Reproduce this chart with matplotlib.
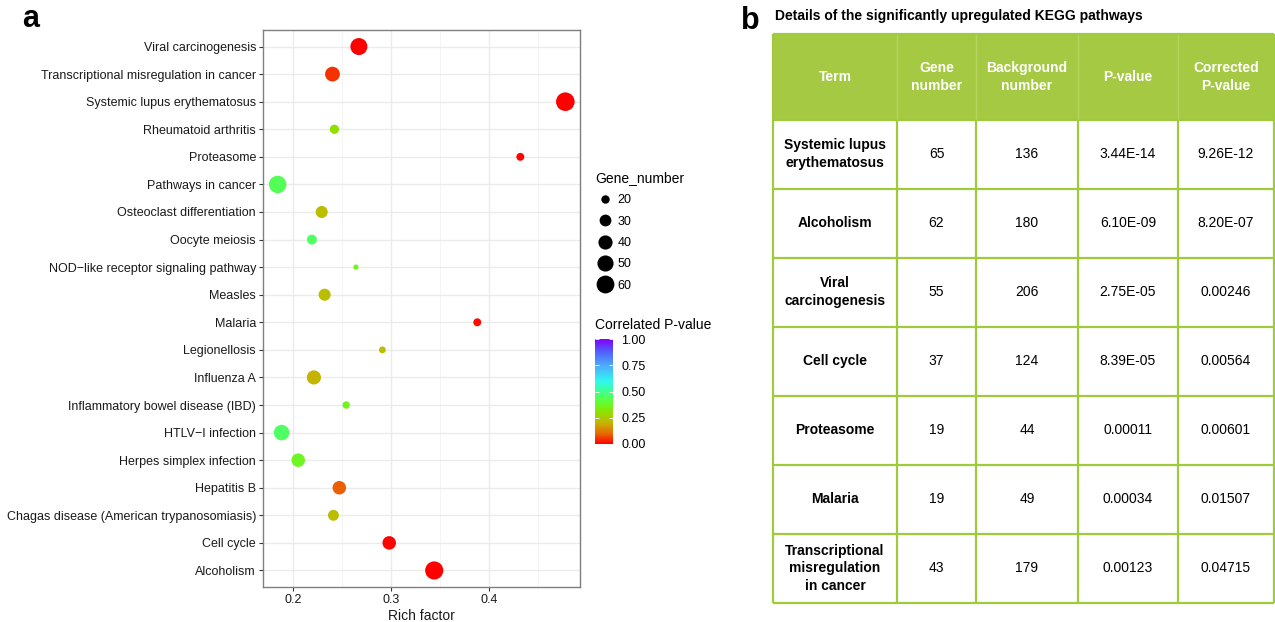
import numpy as np
import matplotlib
matplotlib.use("Agg")
import matplotlib.pyplot as plt
from matplotlib.colors import LinearSegmentedColormap, Normalize
from matplotlib.cm import ScalarMappable
from matplotlib.lines import Line2D
from matplotlib.patches import Rectangle

plt.rcParams['font.family'] = ['Liberation Sans', 'DejaVu Sans']

# ---- panel a data (top to bottom) ----
terms = ["Viral carcinogenesis", "Transcriptional misregulation in cancer",
         "Systemic lupus erythematosus", "Rheumatoid arthritis", "Proteasome",
         "Pathways in cancer", "Osteoclast differentiation", "Oocyte meiosis",
         "NOD\u2212like receptor signaling pathway", "Measles", "Malaria",
         "Legionellosis", "Influenza A", "Inflammatory bowel disease (IBD)",
         "HTLV\u2212I infection", "Herpes simplex infection", "Hepatitis B",
         "Chagas disease (American trypanosomiasis)", "Cell cycle", "Alcoholism"]
rich_factor = [0.267, 0.240, 0.478, 0.242, 0.432, 0.184, 0.229, 0.219, 0.264, 0.232,
               0.388, 0.291, 0.221, 0.254, 0.188, 0.205, 0.247, 0.241, 0.298, 0.344]
gene_number = [55, 43, 65, 22, 19, 58, 31, 24, 15, 31,
               19, 17, 40, 18, 47, 37, 37, 27, 37, 62]
p_corrected = [0.00246, 0.04715, 9.26e-12, 0.30, 0.00601, 0.44, 0.22, 0.45, 0.36, 0.22,
               0.01507, 0.22, 0.20, 0.36, 0.45, 0.37, 0.09, 0.22, 0.00564, 8.2e-07]
size_breaks = [20, 30, 40, 50, 60]
cbar_ticks = [0.0, 0.25, 0.5, 0.75, 1.0]

# colour ramp
ramp_pos = [0.0, 0.10, 0.20, 0.30, 0.40, 0.50, 0.60, 0.75, 0.88, 1.0]
ramp_col = ['#FF0000', '#E86A00', '#C4B400', '#90E000', '#60FF30',
            '#40FF90', '#30F8F0', '#50A8FF', '#5060FF', '#8000FF']

# ---- panel b data ----
tbl_title = "Details of the significantly upregulated KEGG pathways"
tbl_header = ["Term", "Gene\nnumber", "Background\nnumber", "P-value", "Corrected\nP-value"]
tbl_terms = ["Systemic lupus\nerythematosus", "Alcoholism", "Viral\ncarcinogenesis",
             "Cell cycle", "Proteasome", "Malaria",
             "Transcriptional\nmisregulation\nin cancer"]
tbl_gene = ["65", "62", "55", "37", "19", "19", "43"]
tbl_background = ["136", "180", "206", "124", "44", "49", "179"]
tbl_p = ["3.44E-14", "6.10E-09", "2.75E-05", "8.39E-05", "0.00011", "0.00034", "0.00123"]
tbl_padj = ["9.26E-12", "8.20E-07", "0.00246", "0.00564", "0.00601", "0.01507", "0.04715"]

cmap = LinearSegmentedColormap.from_list("pv", list(zip(ramp_pos, ramp_col)))
norm = Normalize(0, 1)


# ggplot style area scale -> marker diameter in points
def diam(g):
    g = np.asarray(g, float)
    return 3.1 * (1 + 5 * np.sqrt((g - 14) / 51)) * 72 / 100


fig = plt.figure(figsize=(12.75, 6.22), dpi=100)

# ---- panel a ----
ax = fig.add_axes([263 / 1275, 1 - 587 / 622, 317 / 1275, 557 / 622])
ax.scatter(rich_factor, terms, s=diam(gene_number) ** 2, c=p_corrected,
           cmap=cmap, norm=norm, linewidths=0, zorder=3)
ax.set_xticks([0.2, 0.3, 0.4])
ax.set_xticklabels(["0.2", "0.3", "0.4"])
ax.set_xticks([0.15, 0.25, 0.35, 0.45], minor=True)
ax.set_ylim(len(terms) - 0.4, -0.6)
ax.set_xlim(0.169, 0.493)
ax.grid(True, which='major', color='#EBEBEB', lw=1.0, zorder=0)
ax.grid(True, which='minor', axis='x', color='#F2F2F2', lw=0.6, zorder=0)
ax.set_axisbelow(True)
for sp in ax.spines.values():
    sp.set_color('#7F7F7F')
    sp.set_linewidth(1.0)
ax.tick_params(which='major', length=3, width=0.8, color='#333333', labelsize=9,
               labelcolor='#1A1A1A', pad=2)
ax.tick_params(which='minor', length=0)
ax.set_xlabel("Rich factor", fontsize=10, color='#1A1A1A', labelpad=2)

fig.text(22 / 1275, 1 - 19 / 622, "a", fontsize=22, fontweight='bold', va='center')

# size legend
handles = [Line2D([], [], marker='o', ls='', color='black', markeredgewidth=0,
                  markersize=diam(b)) for b in size_breaks]
leg = fig.legend(handles, [str(b) for b in size_breaks], title="Gene_number",
                 loc='upper left', bbox_to_anchor=(586 / 1275, 1 - 162 / 622),
                 frameon=False, fontsize=9, title_fontsize=10, labelspacing=0.75,
                 handletextpad=0.2, handlelength=1.6, borderpad=0.2)
leg._legend_box.align = 'left'

# colour bar
fig.text(595 / 1275, 1 - 325 / 622, "Correlated P-value", fontsize=10, va='center')
cax = fig.add_axes([595 / 1275, 1 - 444 / 622, 18 / 1275, 105 / 622])
cb = fig.colorbar(ScalarMappable(norm=norm, cmap=cmap), cax=cax, ticks=cbar_ticks)
cb.outline.set_visible(False)
cb.ax.set_yticklabels(["%.2f" % v for v in cbar_ticks])
cb.ax.yaxis.set_ticks_position('both')
cb.ax.tick_params(direction='in', color='white', length=3, width=0.6, labelsize=9,
                  labelleft=False, labelright=True, pad=6)

# ---- panel b ----
col_w = [124, 79, 102, 100, 96]
head_h = 86
row_h = 69.3
green = '#A6C944'
line_green = '#9DCB3A'
tx = fig.add_axes([773 / 1275, 1 - 603 / 622, 501 / 1275, 569 / 622])
tx.set_xlim(0, sum(col_w))
tx.set_ylim(head_h + row_h * len(tbl_terms), 0)
tx.axis('off')
xs = np.concatenate([[0], np.cumsum(col_w)])
tx.add_patch(Rectangle((0, 0), xs[-1], head_h, facecolor=green, edgecolor='none'))
for j, h in enumerate(tbl_header):
    tx.text((xs[j] + xs[j + 1]) / 2, head_h / 2, h, ha='center', va='center', color='white',
            fontsize=10, fontweight='bold', linespacing=1.35)
columns = [tbl_terms, tbl_gene, tbl_background, tbl_p, tbl_padj]
for i in range(len(tbl_terms)):
    yc = head_h + row_h * (i + 0.5)
    for j, col in enumerate(columns):
        tx.text((xs[j] + xs[j + 1]) / 2, yc, col[i], ha='center', va='center', color='black',
                fontsize=10, fontweight='bold' if j == 0 else 'normal', linespacing=1.35)
# grid lines
ys = head_h + row_h * np.arange(len(tbl_terms) + 1)
tx.hlines(ys, 0, xs[-1], color=line_green, lw=1.6, clip_on=False)
tx.hlines([0], 0, xs[-1], color=line_green, lw=1.6, clip_on=False)
tx.vlines(xs[1:-1], head_h, ys[-1], color=line_green, lw=1.6, clip_on=False)
tx.vlines(xs[1:-1], 0, head_h, color='#B5D45E', lw=1.0, clip_on=False)
tx.vlines([xs[0], xs[-1]], 0, ys[-1], color=line_green, lw=1.6, clip_on=False)

fig.text(775 / 1275, 1 - 16 / 622, tbl_title, fontsize=10, fontweight='bold', va='center')
fig.text(741 / 1275, 1 - 21 / 622, "b", fontsize=22, fontweight='bold', va='center')

fig.savefig("out.png", dpi=100, facecolor='white')
